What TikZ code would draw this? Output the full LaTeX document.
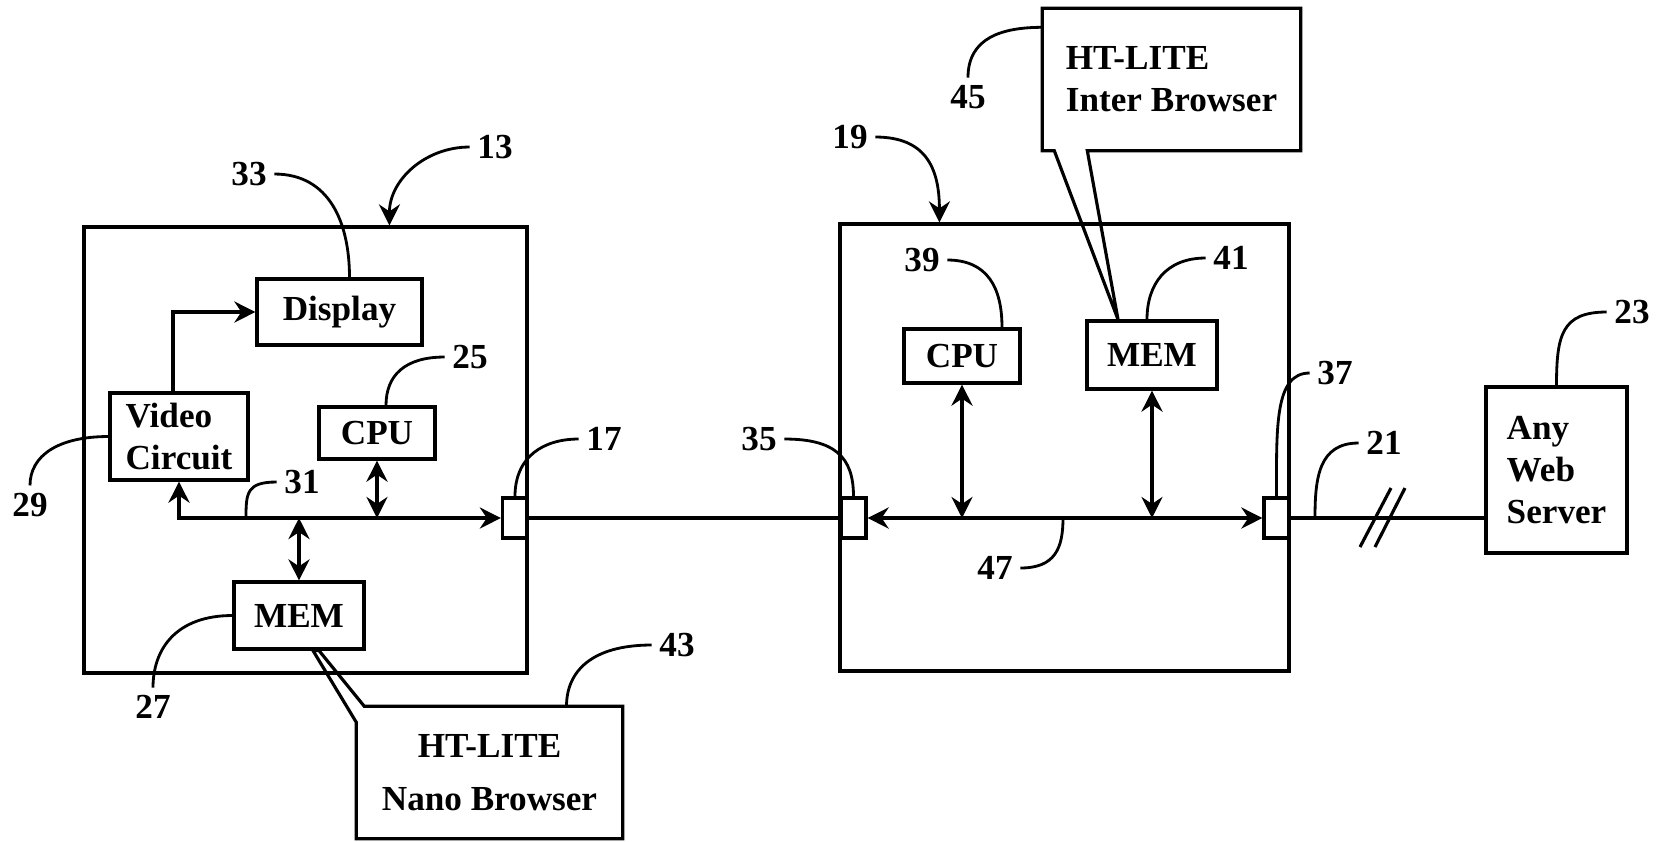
\documentclass[tikz,border=0pt]{standalone}
\usepackage{fontspec}
\setmainfont{Liberation Serif}
\usetikzlibrary{arrows.meta}
\usetikzlibrary{positioning}
\usetikzlibrary{calc}

\tikzset{
  unit/.style={draw, line width=0.9pt, inner sep=0pt},
  note/.style={inner sep=0pt},
  port/.style={draw, line width=0.9pt, inner sep=0pt, minimum width=0.25cm, minimum height=0.4cm},
  num/.style={inner sep=2pt},
  link/.style={line width=0.9pt},
  lead/.style={line width=0.8pt},
}

\begin{document}
\begin{tikzpicture}[x=0.01cm, y=-0.01cm, >={Stealth[length=6pt,width=6pt,inset=2pt]},
    every node/.style={font=\bfseries}]

  \def\u{0.01cm};

  \useasboundingbox (0,0) rectangle (1660,841);

  % client device 13
  \node[unit, minimum width=443*\u, minimum height=446*\u] (client) at (305.5,450) {};
  \node[unit, minimum width=165*\u, minimum height=66*\u] (disp) at (339.5,312) {Display};
  \node[unit, minimum width=138*\u, minimum height=87*\u, align=left] (video) at (179,436.5) {Video\\Circuit};
  \node[unit, minimum width=116*\u, minimum height=52*\u] (cpu1) at (377,433) {CPU};
  \node[unit, minimum width=130*\u, minimum height=67*\u] (mem1) at (299,615.5) {MEM};
  \node[port] (port17) at (515,518) {};

  % proxy 19
  \node[unit, minimum width=449*\u, minimum height=447*\u] (proxy) at (1064.5,447.5) {};
  \node[unit, minimum width=116*\u, minimum height=54*\u] (cpu2) at (962,356) {CPU};
  \node[unit, minimum width=130*\u, minimum height=68*\u] (mem2) at (1152,355) {MEM};
  \node[port] (port35) at (853.5,518) {};
  \node[port] (port37) at (1276.5,518) {};

  % web server 23
  \node[unit, minimum width=141*\u, minimum height=166*\u, align=left] (server) at (1556.5,470) {Any\\Web\\Server};

  % browser callouts
  \node[note, minimum width=265*\u, minimum height=131*\u, align=center,
        font=\bfseries\fontsize{10}{15}\selectfont] (nano) at (489.5,772.5) {HT-LITE\\Nano Browser};
  \node[note, minimum width=257*\u, minimum height=141*\u, align=left] (inter) at (1171.5,79.5) {HT-LITE\\Inter Browser};

  \draw[link] ($(nano.north west)+(8,0)$) -- (nano.north east) -- (nano.south east) -- (nano.south west)
     -- ($(nano.north west)+(0,16)$) -- ($(mem1.south)+(14,0)$) -- ($(mem1.south)+(20,0)$) -- cycle;
  \draw[link] (inter.south west) -- (inter.north west) -- (inter.north east) -- (inter.south east)
     -- ($(inter.south west)+(45,0)$) -- ($(mem2.north)+(-34,0)$) -- ($(inter.south west)+(12,0)$) -- cycle;

  % buses and lines
  \draw[link, ->] ($(video.north)+(-6,0)$) |- (disp.west);
  \draw[link, <->] (video.south) |- (port17.west);
  \draw[link, <->] (cpu1.south) -- (cpu1.south |- port17.west);
  \draw[link, <->] (mem1.north) -- (mem1.north |- port17.west);
  \draw[link] (port17.east) -- (port35.west);
  \draw[link, <->] (port35.east) -- (port37.west);
  \draw[link, <->] (cpu2.south) -- (cpu2.south |- port35.east);
  \draw[link, <->] (mem2.south) -- (mem2.south |- port35.east);
  \draw[link] (port37.east) -- (port37.east -| server.west);

  \coordinate (brk) at (1383,518);
  \draw[link] ($(brk)+(-23,29)$) -- ($(brk)+(8,-30)$);
  \draw[link] ($(brk)+(-8,29)$) -- ($(brk)+(22,-30)$);

  % reference numerals
  \foreach \n/\x/\y in {13/495/147, 33/249/174, 25/470/357, 29/30/505, 31/302/482, 27/153/707,
                        43/677/645, 17/604/439, 35/759/439, 19/850/137, 45/968/97, 39/922/260,
                        41/1231/258, 47/995/568, 37/1335/373, 21/1384/443, 23/1632/312} {
    \node[num] (l\n) at (\x,\y) {\n};
  }

  \coordinate (t13) at ($(client.north west)+(307,0)$);
  \coordinate (t19) at ($(proxy.north west)+(101,0)$);
  \coordinate (b31) at (246,518);
  \coordinate (b47) at (1063,518);
  \coordinate (b21) at (1315,518);

  \draw[lead, ->] (l13.west) .. controls +(-45,0) and +(0,-45) .. (t13);
  \draw[lead] (l33.east) .. controls +(55,0) and +(0,-55) .. ($(disp.north)+(10,0)$);
  \draw[lead] (l25.west) .. controls +(-40,0) and +(0,-30) .. ($(cpu1.north)+(9,0)$);
  \draw[lead] (video.west) .. controls +(-50,0) and +(0,-30) .. (l29.north);
  \draw[lead] (l31.west) .. controls +(-30,0) and +(0,-25) .. (b31);
  \draw[lead] (mem1.west) .. controls +(-55,0) and +(0,-40) .. (l27.north);
  \draw[lead] (l43.west) .. controls +(-60,0) and +(0,-35) .. ($(nano.north)+(77,0)$);
  \draw[lead] (port17.north) .. controls +(0,-40) and +(-35,0) .. (l17.west);
  \draw[lead] (l35.east) .. controls +(50,0) and +(0,-40) .. (port35.north);
  \draw[lead, ->] (l19.east) .. controls +(50,0) and +(0,-55) .. (t19);
  \draw[lead] (l45.north) .. controls +(0,-40) and +(-40,0) .. ($(inter.north west)+(0,19)$);
  \draw[lead] (l39.east) .. controls +(40,0) and +(0,-40) .. ($(cpu2.north)+(40,0)$);
  \draw[lead] (l41.west) .. controls +(-40,0) and +(0,-35) .. ($(mem2.north)+(-5,0)$);
  \draw[lead] (l47.east) .. controls +(35,0) and +(0,30) .. (b47);
  \draw[lead] (l37.west) .. controls +(-35,0) and +(0,-70) .. (port37.north);
  \draw[lead] (l21.west) .. controls +(-40,0) and +(0,-40) .. (b21);
  \draw[lead] (l23.west) .. controls +(-45,0) and +(0,-50) .. (server.north);

\end{tikzpicture}
\end{document}
